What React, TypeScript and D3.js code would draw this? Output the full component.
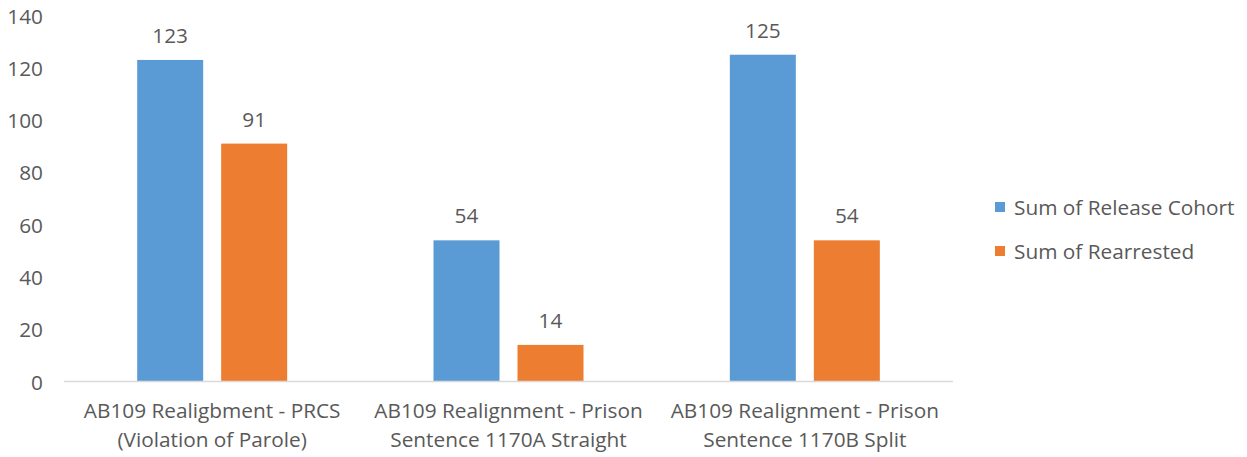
import React from "react";
import * as d3 from "d3";

const categories = [
  ["AB109 Realigbment - PRCS", "(Violation of Parole)"],
  ["AB109 Realignment - Prison", "Sentence 1170A Straight"],
  ["AB109 Realignment - Prison", "Sentence 1170B Split"],
];
const seriesNames = ["Sum of Release Cohort", "Sum of Rearrested"];
const releaseCohort = [123, 54, 125];
const rearrested = [91, 14, 54];
const yTicks = [0, 20, 40, 60, 80, 100, 120, 140];
const colors = ["#5B9BD5", "#ED7D31"];

const W = 1247;
const H = 457;
const FONT = "'Open Sans', sans-serif";
const TEXT = "#595959";
const FS = 20.8;

export default function App() {
  const x0 = d3.scaleBand<number>().domain([0, 1, 2]).range([64, 953]).paddingInner(0).paddingOuter(0);
  const inner = 150;
  const x1 = d3.scaleBand<number>().domain([0, 1]).range([0, inner]).paddingInner(18 / 84).paddingOuter(0);
  const y = d3.scaleLinear().domain([0, 140]).range([381.5, 15.5]);
  const series = [releaseCohort, rearrested];
  const off = (x0.bandwidth() - inner) / 2;

  return (
    <svg width={W} height={H} style={{ position: "absolute", left: 0, top: 0, background: "#fff" }}>
      {yTicks.map((t) => (
        <text key={t} x={43} y={y(t)} textAnchor="end" dominantBaseline="central" fontFamily={FONT} fontSize={FS} fill={TEXT}>
          {t}
        </text>
      ))}
      {series.map((vals, s) =>
        vals.map((v, i) => {
          const bx = (x0(i) as number) + off + (x1(s) as number);
          const bw = x1.bandwidth();
          return (
            <g key={`${s}-${i}`}>
              <rect x={bx} y={y(v)} width={bw} height={y(0) - y(v)} fill={colors[s]} />
              <text x={bx + bw / 2} y={y(v) - 25} textAnchor="middle" dominantBaseline="central" fontFamily={FONT} fontSize={FS} fill={TEXT}>
                {v}
              </text>
            </g>
          );
        })
      )}
      <line x1={64} x2={953} y1={y(0)} y2={y(0)} stroke="#D9D9D9" strokeWidth={1.5} />
      {categories.map((lines, i) => (
        <text key={i} x={(x0(i) as number) + x0.bandwidth() / 2} textAnchor="middle" fontFamily={FONT} fontSize={FS} fill={TEXT}>
          {lines.map((l, j) => (
            <tspan key={j} x={(x0(i) as number) + x0.bandwidth() / 2} y={418 + j * 29}>
              {l}
            </tspan>
          ))}
        </text>
      ))}
      {seriesNames.map((n, s) => (
        <g key={n} transform={`translate(995, ${207 + s * 44})`}>
          <rect x={0} y={-5} width={10} height={10} fill={colors[s]} />
          <text x={19} y={0} dominantBaseline="central" fontFamily={FONT} fontSize={FS} fill={TEXT}>
            {n}
          </text>
        </g>
      ))}
    </svg>
  );
}
